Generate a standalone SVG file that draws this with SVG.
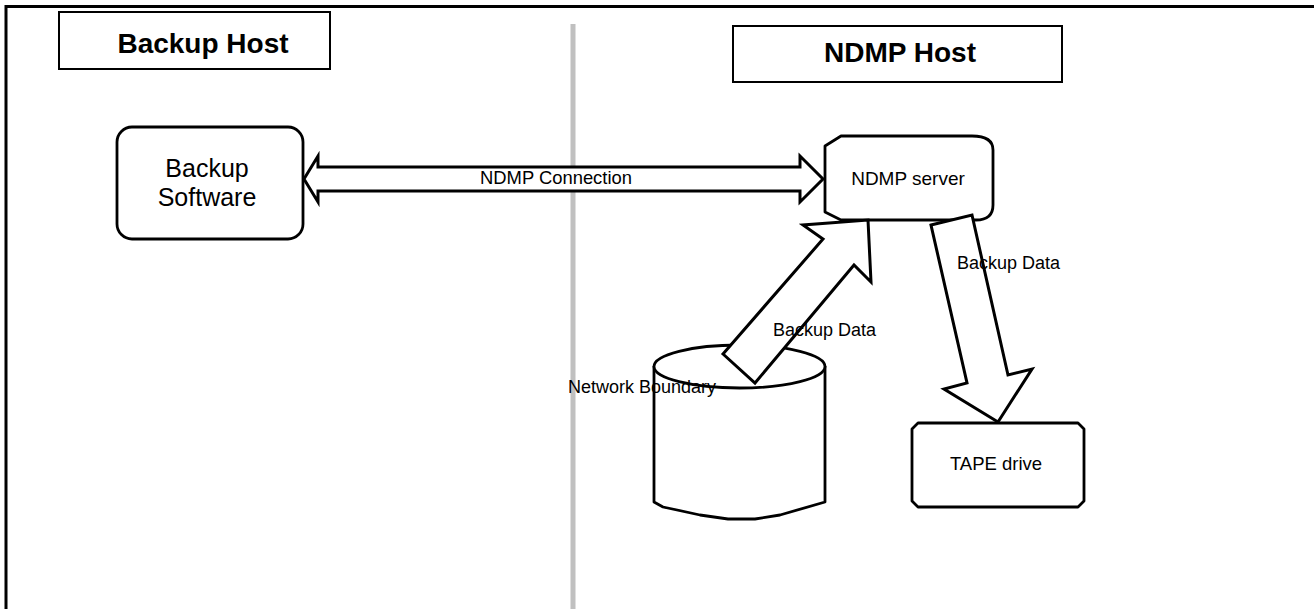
<svg xmlns="http://www.w3.org/2000/svg" width="1314" height="609" viewBox="0 0 1314 609">
  <style>
    .txt { font-family: "Liberation Sans", Arial, sans-serif; fill: #000; }
    .title { font-size: 28px; font-weight: bold; text-anchor: middle; }
    .lbl { font-size: 18px; }
    .big { font-size: 25px; text-anchor: middle; }
    .box { fill: #fff; stroke: #000; stroke-width: 2.8; stroke-linejoin: round; }
    .hdr { fill: #fff; stroke: #000; stroke-width: 2; }
    .arrow { fill: #fff; stroke: #000; stroke-width: 3; stroke-linejoin: miter; }
  </style>

  <rect width="1314" height="609" fill="#fff"/>

  <!-- outer frame: top and left edges -->
  <path d="M6 609 V6.5 H1314" fill="none" stroke="#000" stroke-width="3"/>

  <!-- divider between hosts -->
  <line x1="573" y1="24" x2="573" y2="609" stroke="#c0c0c0" stroke-width="5"/>

  <g id="backup-host-title">
    <rect class="hdr" x="59" y="12" width="271" height="57"/>
    <text class="txt title" x="203" y="53">Backup Host</text>
  </g>

  <g id="ndmp-host-title">
    <rect class="hdr" x="733" y="26" width="329" height="56"/>
    <text class="txt title" x="900" y="62">NDMP Host</text>
  </g>

  <g id="backup-software">
    <rect class="box" x="117" y="127" width="186" height="112" rx="15" ry="15"/>
    <text class="txt big" x="207" y="177">Backup</text>
    <text class="txt big" x="207" y="206">Software</text>
  </g>

  <g id="ndmp-server">
    <path class="box" d="M841 136 H972 Q993 136 993 150 V205 Q993 220 976 220 H841 L825 212 V146 Z"/>
    <text class="txt" x="908" y="185" font-size="19" text-anchor="middle">NDMP server</text>
  </g>

  <g id="network-boundary">
    <path class="box" d="M654 366 V502 L663 507 L700 515 L728 519 L755 519 L780 515 L825 502 V366"/>
    <ellipse class="box" cx="739.5" cy="366.5" rx="85.5" ry="21.5"/>
  </g>

  <g id="tape-drive">
    <path class="box" d="M918 423 H1078 L1084 429 V501 L1078 507 H918 L912 501 V429 Z"/>
    <text class="txt" x="996" y="470" font-size="18.5" text-anchor="middle">TAPE drive</text>
  </g>

  <g id="connectors">
    <!-- NDMP connection, two-way -->
    <path class="arrow" d="M304 179 L318 156 V167 H800 V156 L823 179 L800 202 V191 H318 V202 Z"/>
    <!-- data up from storage to server -->
    <path class="arrow" d="M723 354 L823 239 L803 225 L868 220 L871 282 L854 265 L755 383 Z"/>
    <!-- data down from server to tape -->
    <path class="arrow" d="M931 225 L972 215 L1008 375 L1032 369 L998 422 L944 389 L967 383 Z"/>
  </g>

  <g id="labels">
    <text class="txt" x="480" y="184" font-size="18.4">NDMP Connection</text>
    <text class="txt lbl" x="773" y="336">Backup Data</text>
    <text class="txt lbl" x="957" y="269">Backup Data</text>
    <text class="txt lbl" x="568" y="393">Network Boundary</text>
  </g>
</svg>
